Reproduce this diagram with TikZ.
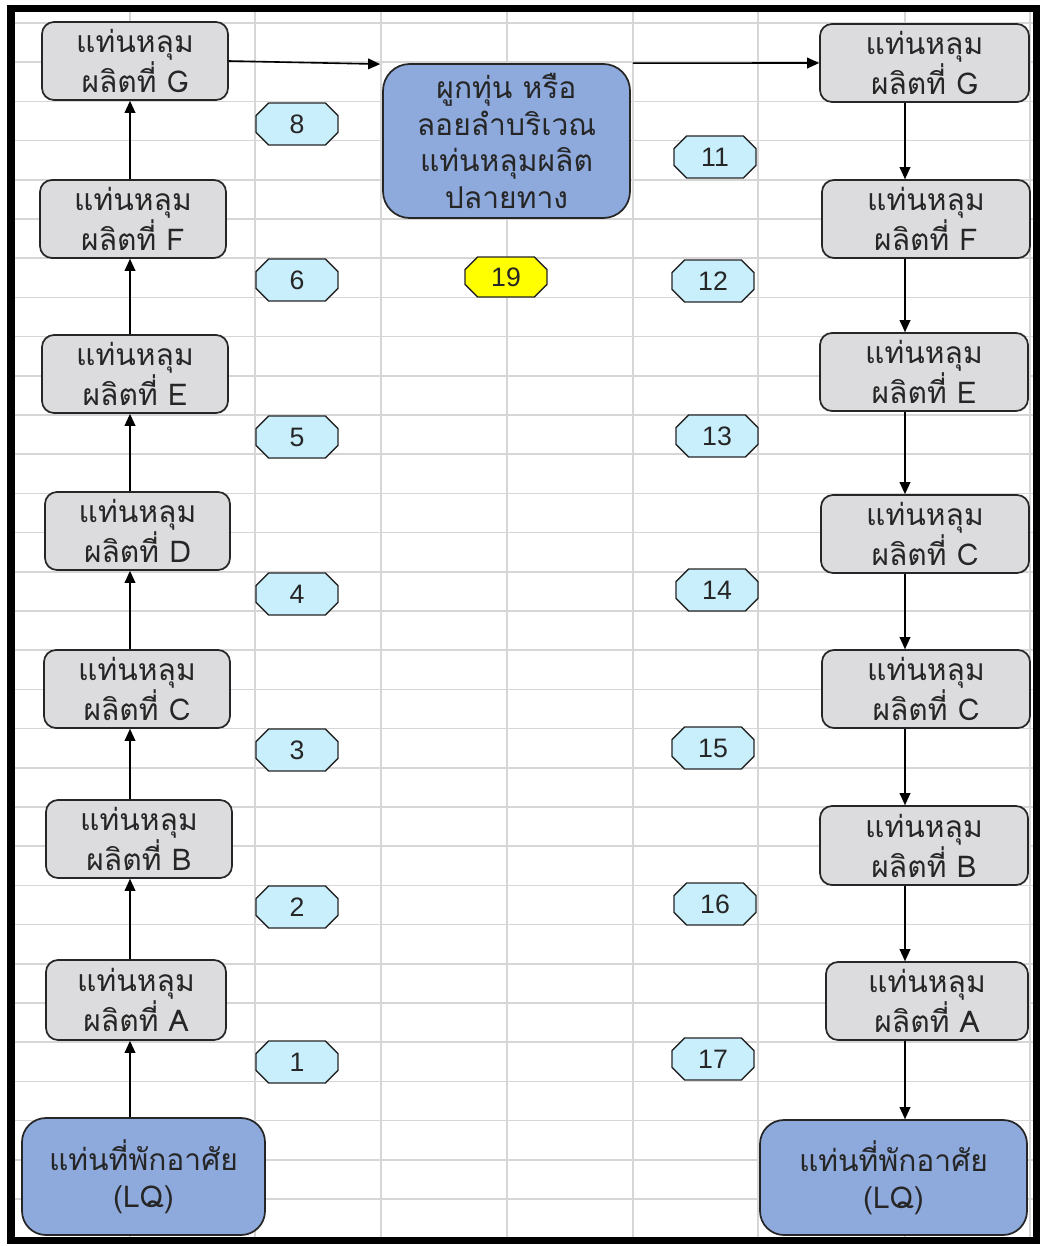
\documentclass[tikz,border=0pt]{standalone}
\usepackage{fontspec}
\setmainfont{Liberation Sans}
\newfontfamily\thai[Script=Thai]{Loma}
\usetikzlibrary{arrows.meta}
\definecolor{gridc}{HTML}{D6D6D6}
\definecolor{boxgray}{HTML}{DCDCDE}
\definecolor{boxblue}{HTML}{8EA9DB}
\definecolor{octc}{HTML}{C9EEFC}
\definecolor{yel}{HTML}{FFFF00}
\definecolor{edge}{HTML}{262626}
\begin{document}
\begin{tikzpicture}[x=0.75pt,y=-0.75pt,
  sz/.style 2 args={minimum width=#1*0.75pt, minimum height=#2*0.75pt},
  gbox/.style={draw=edge, line width=1.3pt, fill=boxgray, rounded corners=9pt,
    align=center, inner sep=0pt, text=edge, font=\thai\fontsize{22.5}{27.5}\selectfont},
  bbox/.style={gbox, fill=boxblue, rounded corners=18pt},
  octo/.style={shape=rectangle, draw=white, draw opacity=0, minimum width=63pt, minimum height=33pt,
    inner sep=0pt, text=edge, font=\fontsize{20}{22}\selectfont,
    path picture={
      \draw[draw=edge, draw opacity=1, line width=1.1pt, fill=#1]
        ([shift={(10.25pt,-0.75pt)}]path picture bounding box.north west)
        -- ([shift={(-10.25pt,-0.75pt)}]path picture bounding box.north east)
        -- ([shift={(-0.75pt,-10.25pt)}]path picture bounding box.north east)
        -- ([shift={(-0.75pt,10.25pt)}]path picture bounding box.south east)
        -- ([shift={(-10.25pt,0.75pt)}]path picture bounding box.south east)
        -- ([shift={(10.25pt,0.75pt)}]path picture bounding box.south west)
        -- ([shift={(0.75pt,10.25pt)}]path picture bounding box.south west)
        -- ([shift={(0.75pt,-10.25pt)}]path picture bounding box.north west)
        -- cycle;}},
  octo/.default=octc,
  arr/.style={draw=black, line width=1.2pt, -{Triangle[length=9pt,width=8pt]}},
  gridline/.style={draw=gridc, line width=1.3pt}]
\useasboundingbox (0,0) rectangle (1041,1246);
\fill[white] (0,0) rectangle (1041,1246);
% spreadsheet grid
\foreach \x in {130,255,381,507,633,758,905,1030}
  \draw[gridline] (\x,12) -- (\x,1237);
\foreach \k in {0,...,31}
  \draw[gridline] (15,{23+39.2*\k}) -- (1033,{23+39.2*\k});
% frame
\draw[line width=5.3pt] (11,8.5) rectangle (1036.5,1240.5);
\coordinate (cL) at (130,0);
\coordinate (cR) at (905,0);
% left column
\node[gbox, sz={186}{78}] (GL) at (135,61) {แท่นหลุม\\ผลิตที่ G};
\node[gbox, sz={186}{78}] (FL) at (133,219) {แท่นหลุม\\ผลิตที่ F};
\node[gbox, sz={186}{78}] (EL) at (135,374) {แท่นหลุม\\ผลิตที่ E};
\node[gbox, sz={185}{78}] (DL) at (137.5,531) {แท่นหลุม\\ผลิตที่ D};
\node[gbox, sz={186}{78}] (CL) at (137,689) {แท่นหลุม\\ผลิตที่ C};
\node[gbox, sz={186}{78}] (BL) at (139,839) {แท่นหลุม\\ผลิตที่ B};
\node[gbox, sz={180}{80}] (AL) at (136,1000) {แท่นหลุม\\ผลิตที่ A};
\node[bbox, sz={243}{117}] (LQL) at (143.5,1176.5) {แท่นที่พักอาศัย\\(LQ)};
% right column
\node[gbox, sz={209}{78}] (GR) at (924.5,63) {แท่นหลุม\\ผลิตที่ G};
\node[gbox, sz={208}{78}] (FR) at (926,219) {แท่นหลุม\\ผลิตที่ F};
\node[gbox, sz={208}{78}] (ER) at (924,372) {แท่นหลุม\\ผลิตที่ E};
\node[gbox, sz={208}{78}] (C1R) at (925,534) {แท่นหลุม\\ผลิตที่ C};
\node[gbox, sz={208}{78}] (C2R) at (926,689) {แท่นหลุม\\ผลิตที่ C};
\node[gbox, sz={208}{79}] (BR) at (924,845.5) {แท่นหลุม\\ผลิตที่ B};
\node[gbox, sz={202}{78}] (AR) at (927,1001) {แท่นหลุม\\ผลิตที่ A};
\node[bbox, sz={267}{115}] (LQR) at (893.5,1177.5) {แท่นที่พักอาศัย\\(LQ)};
% centre
\node[bbox, sz={247}{154}, rounded corners=20pt] (ctr) at (506.5,141) {ผูกทุ่น หรือ\\ลอยลำบริเวณ\\แท่นหลุมผลิต\\ปลายทาง};
% number tags
\node[octo] (n8) at (297,124) {8};
\node[octo] (n6) at (297,280) {6};
\node[octo] (n5) at (297,437) {5};
\node[octo] (n4) at (297,594) {4};
\node[octo] (n3) at (297,750) {3};
\node[octo] (n2) at (297,907) {2};
\node[octo] (n1) at (297,1062) {1};
\node[octo] (n11) at (715,157) {11};
\node[octo] (n12) at (713,281) {12};
\node[octo] (n13) at (717,436) {13};
\node[octo] (n14) at (717,590) {14};
\node[octo] (n15) at (713,748) {15};
\node[octo] (n16) at (715,904) {16};
\node[octo] (n17) at (713,1059) {17};
\node[octo=yel, minimum height=31.5pt] (n19) at (506,277) {19};
% left chain (upwards)
\draw[arr] (LQL.north -| cL) -- (AL.south -| cL);
\draw[arr] (AL.north -| cL) -- (BL.south -| cL);
\draw[arr] (BL.north -| cL) -- (CL.south -| cL);
\draw[arr] (CL.north -| cL) -- (DL.south -| cL);
\draw[arr] (DL.north -| cL) -- (EL.south -| cL);
\draw[arr] (EL.north -| cL) -- (FL.south -| cL);
\draw[arr] (FL.north -| cL) -- (GL.south -| cL);
% top connectors
\draw[arr] (GL.east) -- ([xshift=-1.5pt,yshift=-0.75pt]ctr.north west);
\draw[arr] ([xshift=1.5pt]ctr.north east) -- (GR.west);
% right chain (downwards)
\draw[arr] (GR.south -| cR) -- (FR.north -| cR);
\draw[arr] (FR.south -| cR) -- (ER.north -| cR);
\draw[arr] (ER.south -| cR) -- (C1R.north -| cR);
\draw[arr] (C1R.south -| cR) -- (C2R.north -| cR);
\draw[arr] (C2R.south -| cR) -- (BR.north -| cR);
\draw[arr] (BR.south -| cR) -- (AR.north -| cR);
\draw[arr] (AR.south -| cR) -- (LQR.north -| cR);
\end{tikzpicture}
\end{document}
